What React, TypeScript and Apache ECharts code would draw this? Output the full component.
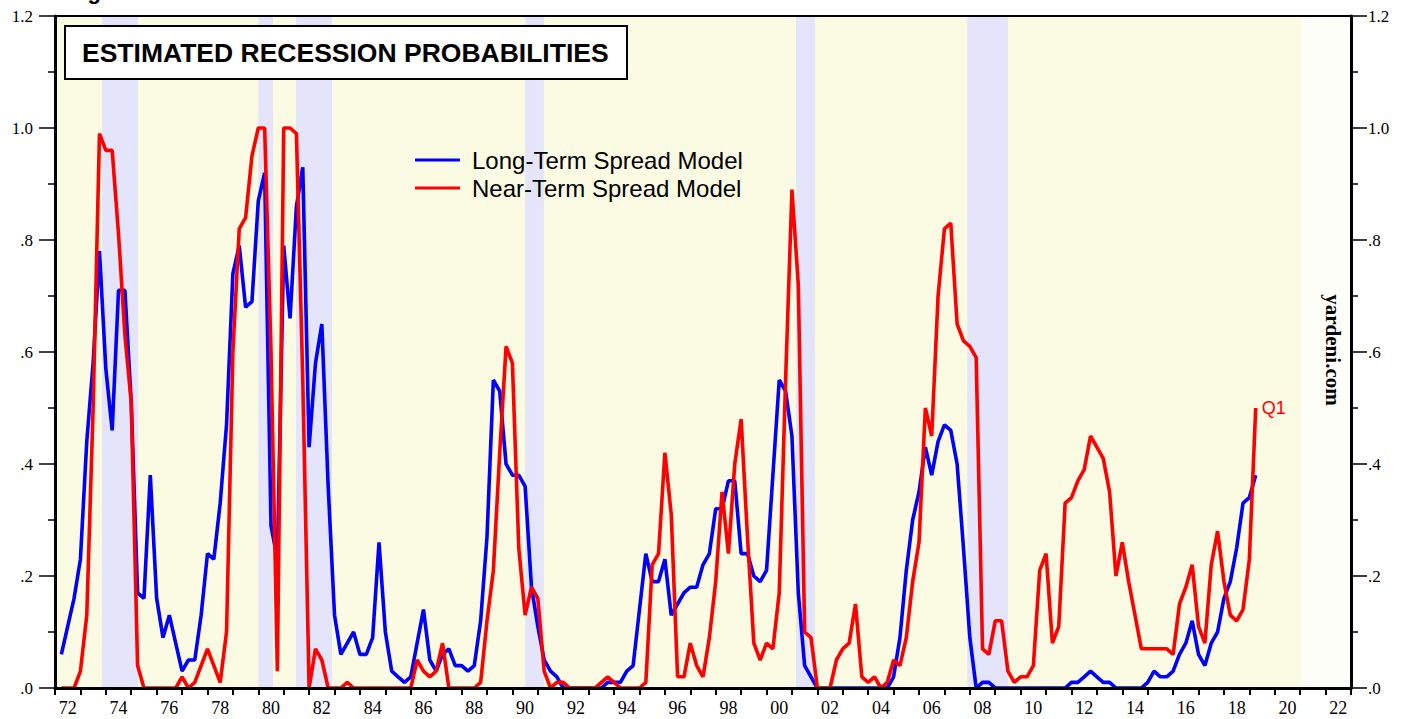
import React, { useEffect, useRef } from "react";
import * as echarts from "echarts";

// Quarterly readings, 1972 Q1 .. 2019 Q1 (plotted at quarter end)
const startYear = 1972;
const longTerm = [
  0.06, 0.11, 0.16, 0.23, // 1972
  0.44, 0.58, 0.78, 0.57, // 1973
  0.46, 0.71, 0.71, 0.51, // 1974
  0.17, 0.16, 0.38, 0.16, // 1975
  0.09, 0.13, 0.08, 0.03, // 1976
  0.05, 0.05, 0.13, 0.24, // 1977
  0.23, 0.33, 0.47, 0.74, // 1978
  0.79, 0.68, 0.69, 0.87, // 1979
  0.92, 0.29, 0.23, 0.79, // 1980
  0.66, 0.86, 0.93, 0.43, // 1981
  0.58, 0.65, 0.36, 0.13, // 1982
  0.06, 0.08, 0.10, 0.06, // 1983
  0.06, 0.09, 0.26, 0.10, // 1984
  0.03, 0.02, 0.01, 0.02, // 1985
  0.08, 0.14, 0.05, 0.03, // 1986
  0.06, 0.07, 0.04, 0.04, // 1987
  0.03, 0.04, 0.12, 0.27, // 1988
  0.55, 0.53, 0.40, 0.38, // 1989
  0.38, 0.36, 0.18, 0.11, // 1990
  0.05, 0.03, 0.02, 0.0, // 1991
  0.0, 0.0, 0.0, 0.0, // 1992
  0.0, 0.0, 0.01, 0.01, // 1993
  0.01, 0.03, 0.04, 0.14, // 1994
  0.24, 0.19, 0.19, 0.23, // 1995
  0.13, 0.15, 0.17, 0.18, // 1996
  0.18, 0.22, 0.24, 0.32, // 1997
  0.32, 0.37, 0.37, 0.24, // 1998
  0.24, 0.2, 0.19, 0.21, // 1999
  0.38, 0.55, 0.53, 0.45, // 2000
  0.17, 0.04, 0.02, 0.0, // 2001
  0.0, 0.0, 0.0, 0.0, // 2002
  0.0, 0.0, 0.0, 0.0, // 2003
  0.0, 0.0, 0.0, 0.02, // 2004
  0.09, 0.21, 0.3, 0.35, // 2005
  0.43, 0.38, 0.44, 0.47, // 2006
  0.46, 0.4, 0.25, 0.09, // 2007
  0.0, 0.01, 0.01, 0.0, // 2008
  0.0, 0.0, 0.0, 0.0, // 2009
  0.0, 0.0, 0.0, 0.0, // 2010
  0.0, 0.0, 0.0, 0.01, // 2011
  0.01, 0.02, 0.03, 0.02, // 2012
  0.01, 0.01, 0.0, 0.0, // 2013
  0.0, 0.0, 0.0, 0.01, // 2014
  0.03, 0.02, 0.02, 0.03, // 2015
  0.06, 0.08, 0.12, 0.06, // 2016
  0.04, 0.08, 0.1, 0.16, // 2017
  0.19, 0.25, 0.33, 0.34, // 2018
  0.38, // 2019
];
const nearTerm = [
  0.0, 0.0, 0.0, 0.03, // 1972
  0.13, 0.5, 0.99, 0.96, // 1973
  0.96, 0.81, 0.63, 0.51, // 1974
  0.04, 0.0, 0.0, 0.0, // 1975
  0.0, 0.0, 0.0, 0.02, // 1976
  0.0, 0.01, 0.04, 0.07, // 1977
  0.04, 0.01, 0.1, 0.6, // 1978
  0.82, 0.84, 0.95, 1.0, // 1979
  1.0, 0.6, 0.03, 1.0, // 1980
  1.0, 0.99, 0.55, 0.0, // 1981
  0.07, 0.05, 0.0, 0.0, // 1982
  0.0, 0.01, 0.0, 0.0, // 1983
  0.0, 0.0, 0.0, 0.0, // 1984
  0.0, 0.0, 0.0, 0.0, // 1985
  0.05, 0.03, 0.02, 0.03, // 1986
  0.08, 0.0, 0.0, 0.0, // 1987
  0.0, 0.0, 0.01, 0.12, // 1988
  0.21, 0.42, 0.61, 0.58, // 1989
  0.25, 0.13, 0.18, 0.16, // 1990
  0.03, 0.0, 0.01, 0.01, // 1991
  0.0, 0.0, 0.0, 0.0, // 1992
  0.0, 0.01, 0.02, 0.01, // 1993
  0.0, 0.0, 0.0, 0.0, // 1994
  0.01, 0.22, 0.24, 0.42, // 1995
  0.31, 0.02, 0.02, 0.08, // 1996
  0.04, 0.02, 0.09, 0.19, // 1997
  0.35, 0.24, 0.4, 0.48, // 1998
  0.27, 0.08, 0.05, 0.08, // 1999
  0.07, 0.17, 0.55, 0.89, // 2000
  0.72, 0.1, 0.09, 0.0, // 2001
  0.0, 0.0, 0.05, 0.07, // 2002
  0.08, 0.15, 0.02, 0.01, // 2003
  0.02, 0.0, 0.01, 0.05, // 2004
  0.04, 0.09, 0.19, 0.26, // 2005
  0.5, 0.45, 0.7, 0.82, // 2006
  0.83, 0.65, 0.62, 0.61, // 2007
  0.59, 0.07, 0.06, 0.12, // 2008
  0.12, 0.03, 0.01, 0.02, // 2009
  0.02, 0.04, 0.21, 0.24, // 2010
  0.08, 0.11, 0.33, 0.34, // 2011
  0.37, 0.39, 0.45, 0.43, // 2012
  0.41, 0.35, 0.2, 0.26, // 2013
  0.19, 0.13, 0.07, 0.07, // 2014
  0.07, 0.07, 0.07, 0.06, // 2015
  0.15, 0.18, 0.22, 0.11, // 2016
  0.08, 0.22, 0.28, 0.19, // 2017
  0.13, 0.12, 0.14, 0.23, // 2018
  0.5, // 2019
];

// Recession periods (decimal years)
const recessions = [
  [1973.85, 1975.27],
  [1980.0, 1980.58],
  [1981.48, 1982.9],
  [1990.5, 1991.24],
  [2001.16, 2001.91],
  [2007.9, 2009.5],
];
const shadedSpan = [1972, 2021.05];
const xLabelYears = [
  1972, 1974, 1976, 1978, 1980, 1982, 1984, 1986, 1988, 1990, 1992, 1994, 1996,
  1998, 2000, 2002, 2004, 2006, 2008, 2010, 2012, 2014, 2016, 2018, 2020, 2022,
];
const seriesNames = ["Long-Term Spread Model", "Near-Term Spread Model"];
const lastLabel = "Q1";

const SERIF = '"Times New Roman", "Liberation Serif", "DejaVu Serif", serif';
const SANS = 'Arial, "Liberation Sans", Helvetica, sans-serif';

const toPoints = (vals: number[]) =>
  vals.map((v, i) => [startYear + 0.25 * (i + 1), v]);

const yFmt = (v: number) => {
  const s = v.toFixed(1);
  return s.startsWith("0") ? s.slice(1) : s;
};

export default function App() {
  const ref = useRef<HTMLDivElement>(null);
  useEffect(() => {
    if (!ref.current) return;
    const chart = echarts.init(ref.current, undefined, { renderer: "svg" });
    const yAxisBase = (pos: "left" | "right", margin: number) => ({
      type: "value",
      position: pos,
      min: 0,
      max: 1.2,
      interval: 0.2,
      z: 10,
      axisLine: { show: true, lineStyle: { color: "#000", width: 3 } },
      axisTick: { show: true, inside: false, length: 16, lineStyle: { color: "#000", width: 1.5 } },
      minorTick: { show: true, splitNumber: 2, length: 7, lineStyle: { color: "#000", width: 1.5 } },
      axisLabel: {
        formatter: yFmt,
        fontFamily: SERIF,
        fontSize: 17,
        color: "#000",
        margin,
      },
      splitLine: { show: false },
      minorSplitLine: { show: false },
    });
    const option: any = {
      animation: false,
      grid: {
        left: 55,
        right: 65,
        top: 16,
        bottom: 31,
        show: true,
        borderWidth: 0,
        backgroundColor: "#fefef8",
      },
      legend: {
        data: seriesNames,
        orient: "vertical",
        left: 410,
        top: 143,
        icon: "rect",
        itemWidth: 45,
        itemHeight: 3,
        itemGap: 4,
        textStyle: {
          fontFamily: SANS,
          fontSize: 24,
          color: "#000",
          lineHeight: 24,
          padding: [0, 0, 0, 7],
        },
      },
      xAxis: [
        {
          type: "value",
          min: 1972,
          max: 2023,
          interval: 1,
          z: 10,
          axisLine: { show: true, onZero: false, lineStyle: { color: "#000", width: 3 } },
          axisTick: { show: true, length: 7, lineStyle: { color: "#000", width: 2 } },
          axisLabel: {
            customValues: xLabelYears.map((y) => y + 0.5),
            formatter: (v: number) => String(Math.floor(v) % 100).padStart(2, "0"),
            fontFamily: SERIF,
            fontSize: 18,
            color: "#000",
            margin: 11,
          },
          splitLine: { show: false },
        },
        {
          type: "value",
          position: "top",
          min: 1972,
          max: 2023,
          z: 10,
          axisLine: { show: true, onZero: false, lineStyle: { color: "#000", width: 2 } },
          axisTick: { show: false },
          axisLabel: { show: false },
          splitLine: { show: false },
        },
      ],
      yAxis: [yAxisBase("left", 22), yAxisBase("right", 17)],
      series: [
        {
          type: "line",
          name: "bg",
          data: [],
          z: 0,
          silent: true,
          markArea: {
            silent: true,
            itemStyle: { color: "#fbfbe4" },
            data: [[{ xAxis: shadedSpan[0] }, { xAxis: shadedSpan[1] }]],
          },
        },
        {
          type: "line",
          name: "rec",
          data: [],
          z: 1,
          silent: true,
          markArea: {
            silent: true,
            itemStyle: { color: "#e4e4fa" },
            data: recessions.map((r) => [{ xAxis: r[0] }, { xAxis: r[1] }]),
          },
        },
        {
          type: "line",
          name: seriesNames[0],
          data: toPoints(longTerm),
          symbol: "none",
          z: 3,
          color: "#0000ff",
          lineStyle: { color: "#0000ff", width: 3.6 },
        },
        {
          type: "line",
          name: seriesNames[1],
          data: toPoints(nearTerm),
          symbol: "none",
          z: 4,
          color: "#ff0000",
          lineStyle: { color: "#ff0000", width: 3.6 },
          endLabel: {
            show: true,
            formatter: lastLabel,
            color: "#ff0000",
            fontFamily: SANS,
            fontSize: 18,
            distance: 6,
          },
        },
      ],
      graphic: [
        {
          type: "text",
          x: 68,
          y: 2,
          style: {
            text: "Figure 3",
            font: `bold 22px ${SANS}`,
            fill: "#000",
            align: "left",
            verticalAlign: "bottom",
          },
        },
        {
          type: "rect",
          shape: { x: 65, y: 26, width: 562, height: 53 },
          style: { fill: "#fff", stroke: "#000", lineWidth: 2 },
          z: 20,
        },
        {
          type: "text",
          x: 82,
          y: 53,
          z: 21,
          style: {
            text: "ESTIMATED RECESSION PROBABILITIES",
            font: `bold 26.5px ${SANS}`,
            fill: "#000",
            align: "left",
            verticalAlign: "middle",
          },
        },
        {
          type: "text",
          x: 1333,
          y: 350,
          rotation: -Math.PI / 2,
          z: 21,
          style: {
            text: "yardeni.com",
            font: `bold 21px ${SERIF}`,
            fill: "#000",
            align: "center",
            verticalAlign: "middle",
          },
        },
      ],
    };
    chart.setOption(option);
    return () => chart.dispose();
  }, []);
  return (
    <div
      ref={ref}
      style={{ position: "fixed", left: 0, top: 0, width: 1416, height: 719, background: "#fff" }}
    />
  );
}
